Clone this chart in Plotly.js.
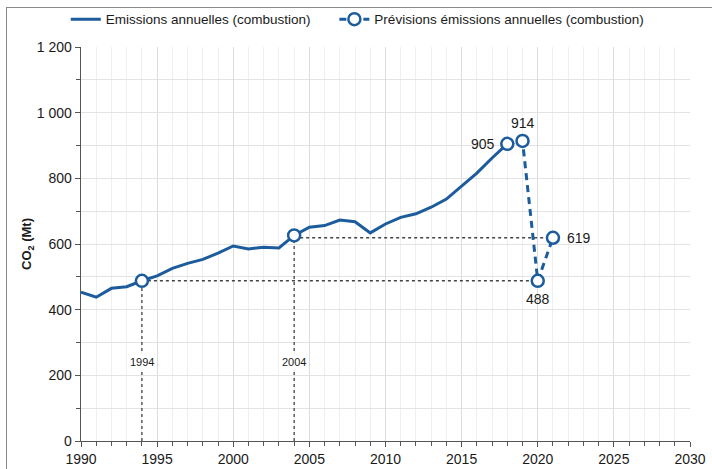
<!DOCTYPE html>
<html><head><meta charset="utf-8">
<script src="https://cdn.plot.ly/plotly-3.0.1.min.js"></script>
<style>
html,body{margin:0;padding:0;background:#fff;}
#wrap{position:relative;width:712px;height:469px;overflow:hidden;}
#chart{position:absolute;left:0;top:0;width:712px;height:469px;}
#frame{position:absolute;left:6px;top:7px;width:720px;height:480px;border:1.5px solid #8a8a8a;pointer-events:none;}
</style></head>
<body><div id="wrap"><div id="chart"></div><div id="frame"></div></div>
<script>
// Historical emissions (combustion), Mt CO2
const histYears = [1990,1991,1992,1993,1994,1995,1996,1997,1998,1999,2000,2001,2002,2003,2004,2005,2006,2007,2008,2009,2010,2011,2012,2013,2014,2015,2016,2017,2018];
const histValues = [453,438,465,470,488,503,526,541,553,572,594,585,590,588,626,651,656,673,668,634,661,681,692,712,737,777,816,862,905];
// Forecast emissions
const fcYears = [2018,2019,2020,2021];
const fcValues = [905,914,488,619];
// Reference years highlighted
const refYears = [1994,2004];
const refValues = [488,626];
const refLevels = [488,619];
const refEndYears = [2020,2021];
const refLabels = ['1994','2004'];
// Axis ticks
const yTickVals = [0,200,400,600,800,1000,1200];
const yTickText = ['0','200','400','600','800','1 000','1 200'];

const blue = '#1c5c9c';
const guide = {color:'#444', width:1.3, dash:'3px,3px'};
const traces = [];
refYears.forEach((yr,i)=>{
  traces.push({x:[yr,yr], y:[0,refValues[i]], mode:'lines', line:guide, showlegend:false, hoverinfo:'skip'});
  traces.push({x:[yr,refEndYears[i]], y:[refLevels[i],refLevels[i]], mode:'lines', line:guide, showlegend:false, hoverinfo:'skip'});
});
const pad = '\u00a0\u00a0\u00a0\u00a0\u00a0';
traces.push({x:histYears, y:histValues, mode:'lines', name:'Emissions annuelles (combustion)' + pad,
  line:{color:blue,width:3}});
traces.push({x:fcYears, y:fcValues, mode:'lines+markers', name:'Prévisions émissions annuelles (combustion)',
  line:{color:blue,width:3,dash:'7px,5px'},
  marker:{symbol:'circle',size:12,color:'#fff',line:{color:blue,width:2.5}}});
traces.push({x:refYears, y:refValues, mode:'markers', showlegend:false,
  marker:{symbol:'circle',size:12,color:'#fff',line:{color:blue,width:2.5}}});

const fam = '"Liberation Sans", Arial, sans-serif';
const font = {family:fam, size:14, color:'#1a1a1a'};
const legFont = {family:fam, size:13.5, color:'#1a1a1a'};
const annotations = [
  {x:fcYears[0], y:fcValues[0], text:String(fcValues[0]), showarrow:false, xanchor:'right', xshift:-10, font:font},
  {x:fcYears[1], y:fcValues[1], text:String(fcValues[1]), showarrow:false, yanchor:'bottom', yshift:8, font:font},
  {x:fcYears[2], y:fcValues[2], text:String(fcValues[2]), showarrow:false, yanchor:'top', yshift:-8, font:font},
  {x:fcYears[3], y:fcValues[3], text:String(fcValues[3]), showarrow:false, xanchor:'left', xshift:12, font:font}
];
refYears.forEach((yr,i)=>{
  annotations.push({x:yr, y:240, text:refLabels[i], showarrow:false, bgcolor:'#fff', borderpad:2,
    font:{family:fam,size:11,color:'#1a1a1a'}});
});

const layout = {
  width:712, height:469,
  margin:{l:81, r:22, t:47, b:28, autoexpand:false},
  paper_bgcolor:'rgba(0,0,0,0)', plot_bgcolor:'#fff',
  font:font,
  showlegend:true,
  legend:{orientation:'h', x:-0.025, xanchor:'left', y:1.07, yanchor:'middle', font:legFont,
    bgcolor:'rgba(0,0,0,0)', traceorder:'normal'},
  xaxis:{range:[1990,2030], dtick:5, tick0:1990, showgrid:true, gridcolor:'#dcdcdc', gridwidth:1,
    showline:true, linecolor:'#555', linewidth:1.3, ticks:'outside', ticklen:5, tickcolor:'#555',
    zeroline:false, tickfont:font, automargin:false,
    minor:{dtick:1, tick0:1990, ticks:'outside', ticklen:4, tickcolor:'#555', showgrid:true, gridcolor:'#efefef'}},
  yaxis:{range:[0,1200], tickvals:yTickVals, ticktext:yTickText, showgrid:true, gridcolor:'#e3e3e3',
    showline:true, linecolor:'#555', linewidth:1.3, ticks:'outside', ticklen:5, tickcolor:'#555',
    zeroline:false, tickfont:font, automargin:false,
    minor:{dtick:100, tick0:0, ticks:'outside', ticklen:4, tickcolor:'#555', showgrid:true, gridcolor:'#e3e3e3'},
    title:{text:'<b>CO<sub>2</sub> (Mt)</b>', font:{family:fam,size:13,color:'#1a1a1a'}, standoff:2}},
  annotations:annotations
};
Plotly.newPlot('chart', traces, layout, {staticPlot:true});
</script></body></html>
